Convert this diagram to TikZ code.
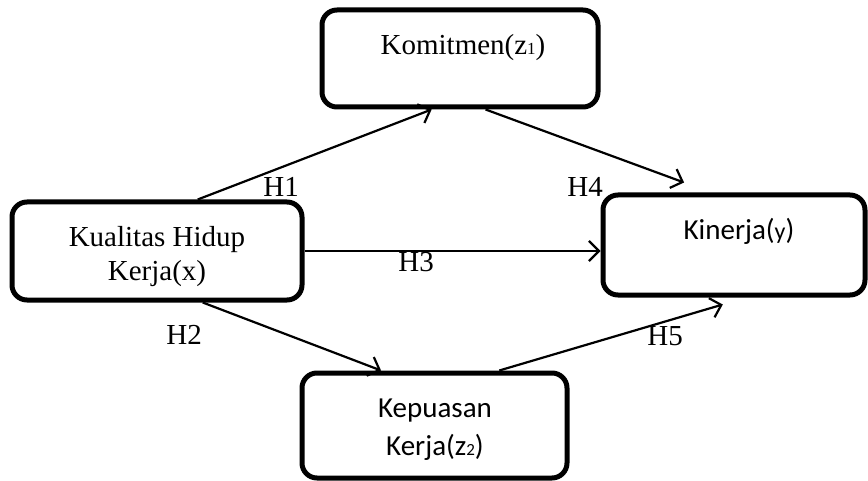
\documentclass[tikz,border=0pt]{standalone}
\usepackage{fontspec}
\setmainfont{Liberation Serif}
\newfontfamily\calfont{Carlito}
\usetikzlibrary{arrows.meta,calc}
\newcommand\smsub[1]{{\fontsize{8.5}{9}\selectfont #1}}
\begin{document}
\begin{tikzpicture}[x=0.5pt,y=-0.5pt,
  box/.style={draw,line width=2.5pt,rounded corners=7.5pt,inner sep=0pt},
  lbl/.style={inner sep=0pt,anchor=base,font=\fontsize{14.5}{17}\selectfont},
  clbl/.style={inner sep=0pt,anchor=base,font=\calfont\fontsize{14.5}{17}\selectfont},
  hlbl/.style={inner sep=0pt,anchor=base west,font=\fontsize{14.5}{17}\selectfont},
  arr/.style={-{Straight Barb[length=5pt,width=10pt]},line width=1.1pt}]
\useasboundingbox (0,0) rectangle (868,481);
% boxes
\node[box,minimum width=138pt,minimum height=48.5pt] (kom) at (460,58.5) {};
\node[box,minimum width=145pt,minimum height=49pt] (kual) at (157,251) {};
\node[box,minimum width=131pt,minimum height=50pt] (kin) at (734,245) {};
\node[box,minimum width=132.5pt,minimum height=52.5pt] (kep) at (434.5,425.5) {};
% texts
\node[lbl] (tkom) at (463,55) {Komitmen(z\smsub{1})};
\node[lbl] (tkual1) at (157,247) {Kualitas Hidup};
\node[lbl] (tkual2) at (157,280) {Kerja(x)};
\node[clbl] (tkin) at (739,240) {Kinerja({\fontsize{12}{12}\selectfont y})};
\node[clbl] (tkep1) at (435,417) {Kepuasan};
\node[clbl] (tkep2) at (435,455) {Kerja(z\smsub{2})};
% hypothesis labels
\node[hlbl] (h1) at (263,197) {H1};
\node[hlbl] (h4) at (567,197) {H4};
\node[hlbl] (h3) at (398,271) {H3};
\node[hlbl] (h2) at (166,344) {H2};
\node[hlbl] (h5) at (647,345) {H5};
% connector end points
\coordinate (a1) at ($(kual.north west)!0.638!(kual.north east)$);
\coordinate (b1) at ($(kom.south west)!0.399!(kom.south east)$);
\coordinate (a4) at ($(kom.south west)!0.591!(kom.south east)$);
\coordinate (b4) at ($($(kin.north west)!0.313!(kin.north east)$)+(0pt,5pt)$);
\coordinate (a2) at ($(kual.south west)!0.655!(kual.south east)$);
\coordinate (b2) at ($(kep.north west)!0.302!(kep.north east)$);
\coordinate (a5) at ($(kep.north west)!0.74!(kep.north east)$);
\coordinate (b5) at ($($(kin.south west)!0.458!(kin.south east)$)+(0pt,-3.5pt)$);
% connectors
\draw[arr] (a1) -- (b1);
\draw[arr] (a4) -- (b4);
\draw[arr] (kual.east) -- (kual.east -| kin.west);
\draw[arr] (a2) -- (b2);
\draw[arr] (a5) -- (b5);
\end{tikzpicture}
\end{document}
